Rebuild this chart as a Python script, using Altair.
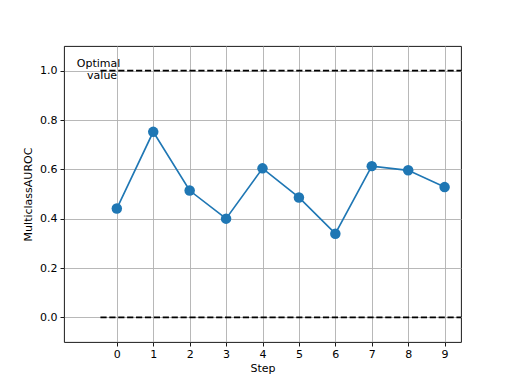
import altair as alt
import pandas as pd

steps = [0, 1, 2, 3, 4, 5, 6, 7, 8, 9]
auroc = [0.441, 0.752, 0.514, 0.400, 0.604, 0.486, 0.339, 0.613, 0.596, 0.528]
ref_levels = [1.0, 0.0]
ref_x_start = -0.45
ref_x_end = 9.45
note_lines = ["Optimal", "value"]
note_x = -0.5
note_y = 1.0

df = pd.DataFrame({"Step": steps, "AUROC": auroc})
ref = pd.DataFrame({"x": [ref_x_start] * 2, "x2": [ref_x_end] * 2, "y": ref_levels})
note = pd.DataFrame({"x": [note_x, note_x], "y": [note_y, note_y], "t": note_lines})

FONT = "DejaVu Sans"
xs = alt.Scale(domain=[-1.45, 9.45], nice=False, zero=False)
ys = alt.Scale(domain=[-0.1, 1.1], nice=False, zero=False)

base_x_axis = alt.Axis(values=steps, format="d", title="Step", grid=True)
base_y_axis = alt.Axis(values=[0, 0.2, 0.4, 0.6, 0.8, 1.0], format=".1f", title="MulticlassAUROC", grid=True)

line = alt.Chart(df).mark_line(color="#1f77b4", strokeWidth=1.67).encode(
    x=alt.X("Step:Q", scale=xs, axis=base_x_axis),
    y=alt.Y("AUROC:Q", scale=ys, axis=base_y_axis),
)
pts = alt.Chart(df).mark_point(filled=True, opacity=1, color="#1f77b4", size=110, shape="circle").encode(
    x=alt.X("Step:Q", scale=xs), y=alt.Y("AUROC:Q", scale=ys)
)
rules = alt.Chart(ref).mark_rule(color="black", strokeWidth=1.67, strokeDash=[6.2, 2.7], clip=True).encode(
    x=alt.X("x:Q", scale=xs), x2="x2:Q", y=alt.Y("y:Q", scale=ys)
)
t1 = alt.Chart(note.iloc[[0]]).mark_text(font=FONT, fontSize=11, color="black", align="center", dy=-6.5).encode(
    x=alt.X("x:Q", scale=xs), y=alt.Y("y:Q", scale=ys), text="t:N"
)
t2 = alt.Chart(note.iloc[[1]]).mark_text(font=FONT, fontSize=11, color="black", align="center", dy=5.5, dx=3.5).encode(
    x=alt.X("x:Q", scale=xs), y=alt.Y("y:Q", scale=ys), text="t:N"
)

chart = alt.layer(rules, line, pts, t1, t2).properties(
    width=397, height=296,
    autosize=alt.AutoSizeParams(type="none"),
    padding={"left": 56, "top": 38, "right": 43, "bottom": 34},
).configure_view(stroke="black", strokeWidth=0.9).configure_axis(
    labelFont=FONT, titleFont=FONT, labelFontSize=11, titleFontSize=11,
    labelColor="black", titleColor="black", titleFontWeight="normal",
    domain=False, tickColor="black", tickSize=4, tickWidth=0.9,
    gridColor="#b0b0b0", gridWidth=0.9, gridOpacity=1, labelPadding=2,
).configure_axisY(titlePadding=6, labelPadding=3).configure_axisX(titlePadding=3)

chart.save("out.html", embed_options={"renderer": "svg", "actions": False})
